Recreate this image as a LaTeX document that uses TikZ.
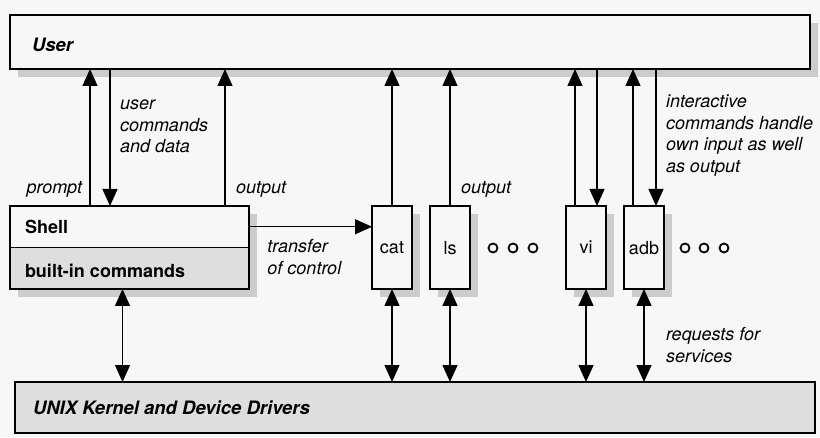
\documentclass[tikz,border=0pt]{standalone}
\usepackage{fontspec}
\setmainfont{TeX Gyre Heros}
\usetikzlibrary{arrows.meta,positioning,shadows,calc}

\begin{document}
\begin{tikzpicture}[x=1pt,y=1pt,
        every node/.style={outer sep=0pt,font=\fontsize{18}{21.5}\selectfont},
        tri/.tip={Triangle[width=15pt,length=17pt]},
        shade/.style={drop shadow={shadow xshift=8pt,shadow yshift=-8pt,fill=black!20,opacity=1}},
        bar/.style={draw,line width=2.5pt,fill=black!3},
        prog/.style={draw,line width=2.4pt,fill=black!3,shade,minimum width=40pt,
        minimum height=83pt,inner sep=1pt,text depth=0pt,yshift=0pt},
        lbl/.style={inner sep=0pt,align=left,font=\fontsize{18}{21.5}\selectfont\itshape},
        head/.style={inner sep=0pt,font=\fontsize{18}{21.5}\selectfont\bfseries},
        flow/.style={line width=1.3pt}]

        \path[use as bounding box,fill=black!3] (0,0) rectangle (820,437);

        % User
        \node[bar,shade,anchor=north west,minimum width=800pt,minimum height=54pt] (user) at (10,422) {};
        \node[head,font=\fontsize{18.5}{21.5}\selectfont\bfseries\itshape,right=22pt of user.west,yshift=-3pt] {User};

        % Shell
        \node[bar,shade,anchor=north west,minimum width=239pt,minimum height=83pt,
        path picture={\fill[black!13] (path picture bounding box.west) rectangle (path picture bounding box.south east);
        \draw[line width=1.2pt] (path picture bounding box.west) -- (path picture bounding box.east);}] (shell) at (10,231) {};
        \coordinate (sh1) at ($(shell.north west)!.25!(shell.south west)$);
        \coordinate (sh2) at ($(shell.north west)!.75!(shell.south west)$);
        \node[head,right=15pt of sh1] {Shell};
        \node[head,right=15pt of sh2,yshift=-3pt] {built-in commands};

        % Kernel
        \node[bar,fill=black!13,line width=2.2pt,anchor=south west,minimum width=800pt,minimum height=51pt] (kernel) at (15,4) {};
        \node[head,font=\fontsize{18.5}{21.5}\selectfont\bfseries\itshape,right=18pt of kernel.west] {UNIX Kernel and Device Drivers};

        % Programs
        \node[prog,right=123pt of shell] (cat) {cat};
        \node[prog,right=18pt of cat] (ls) {ls};
        \node[prog,right=96pt of ls] (vi) {vi};
        \node[prog,right=18pt of vi] (adb) {adb};

        \foreach \x in {493,513,533,685,704,724}
          \draw[line width=1.8pt] (\x,189) circle (4.5pt);

        % Shell <-> User
        \draw[flow,-tri] ([xshift=80pt]shell.north west) coordinate(a1) -- (a1|-user.south)
          node[lbl,pos=0.12,left=8pt]{prompt};
        \draw[flow,tri-] ([xshift=100pt]shell.north west) coordinate(a2) -- (a2|-user.south)
          node[lbl,pos=0.58,right=10pt]{user\\commands\\and data};
        \draw[flow,-tri] ([xshift=215pt]shell.north west) coordinate(a3) -- (a3|-user.south)
          node[lbl,pos=0.12,right=11pt]{output};

        % Programs <-> User
        \draw[flow,-tri] (cat.north) -- (cat.north|-user.south);
        \draw[flow,-tri] (ls.north) -- (ls.north|-user.south)
          node[lbl,pos=0.12,right=11pt]{output};
        \draw[flow,-tri] ([xshift=-11pt]vi.north) coordinate(v1) -- (v1|-user.south);
        \draw[flow,tri-] ([xshift=11pt]vi.north) coordinate(v2) -- (v2|-user.south);
        \draw[flow,-tri] ([xshift=-11pt]adb.north) coordinate(d1) -- (d1|-user.south);
        \draw[flow,tri-] ([xshift=12pt]adb.north) coordinate(d2) -- (d2|-user.south)
          node[lbl,pos=0.515,right=10pt]{interactive\\commands handle\\own input as well\\as output};

        % transfer
        \draw[flow,-tri] (shell.east|-sh1) -- (cat.west|-sh1)
          node[lbl,pos=0.45,below=13pt]{transfer\\of control};

        % Kernel requests
        \draw[flow,tri-tri] ([xshift=-7pt]shell.south) coordinate(k0) -- (k0|-kernel.north);
        \foreach \p in {cat,ls,vi}
          \draw[flow,tri-tri] (\p.south) -- (\p.south|-kernel.north);
        \draw[flow,tri-tri] (adb.south) -- (adb.south|-kernel.north)
          node[lbl,pos=0.6,right=22pt]{requests for\\services};

\end{tikzpicture}
\end{document}
